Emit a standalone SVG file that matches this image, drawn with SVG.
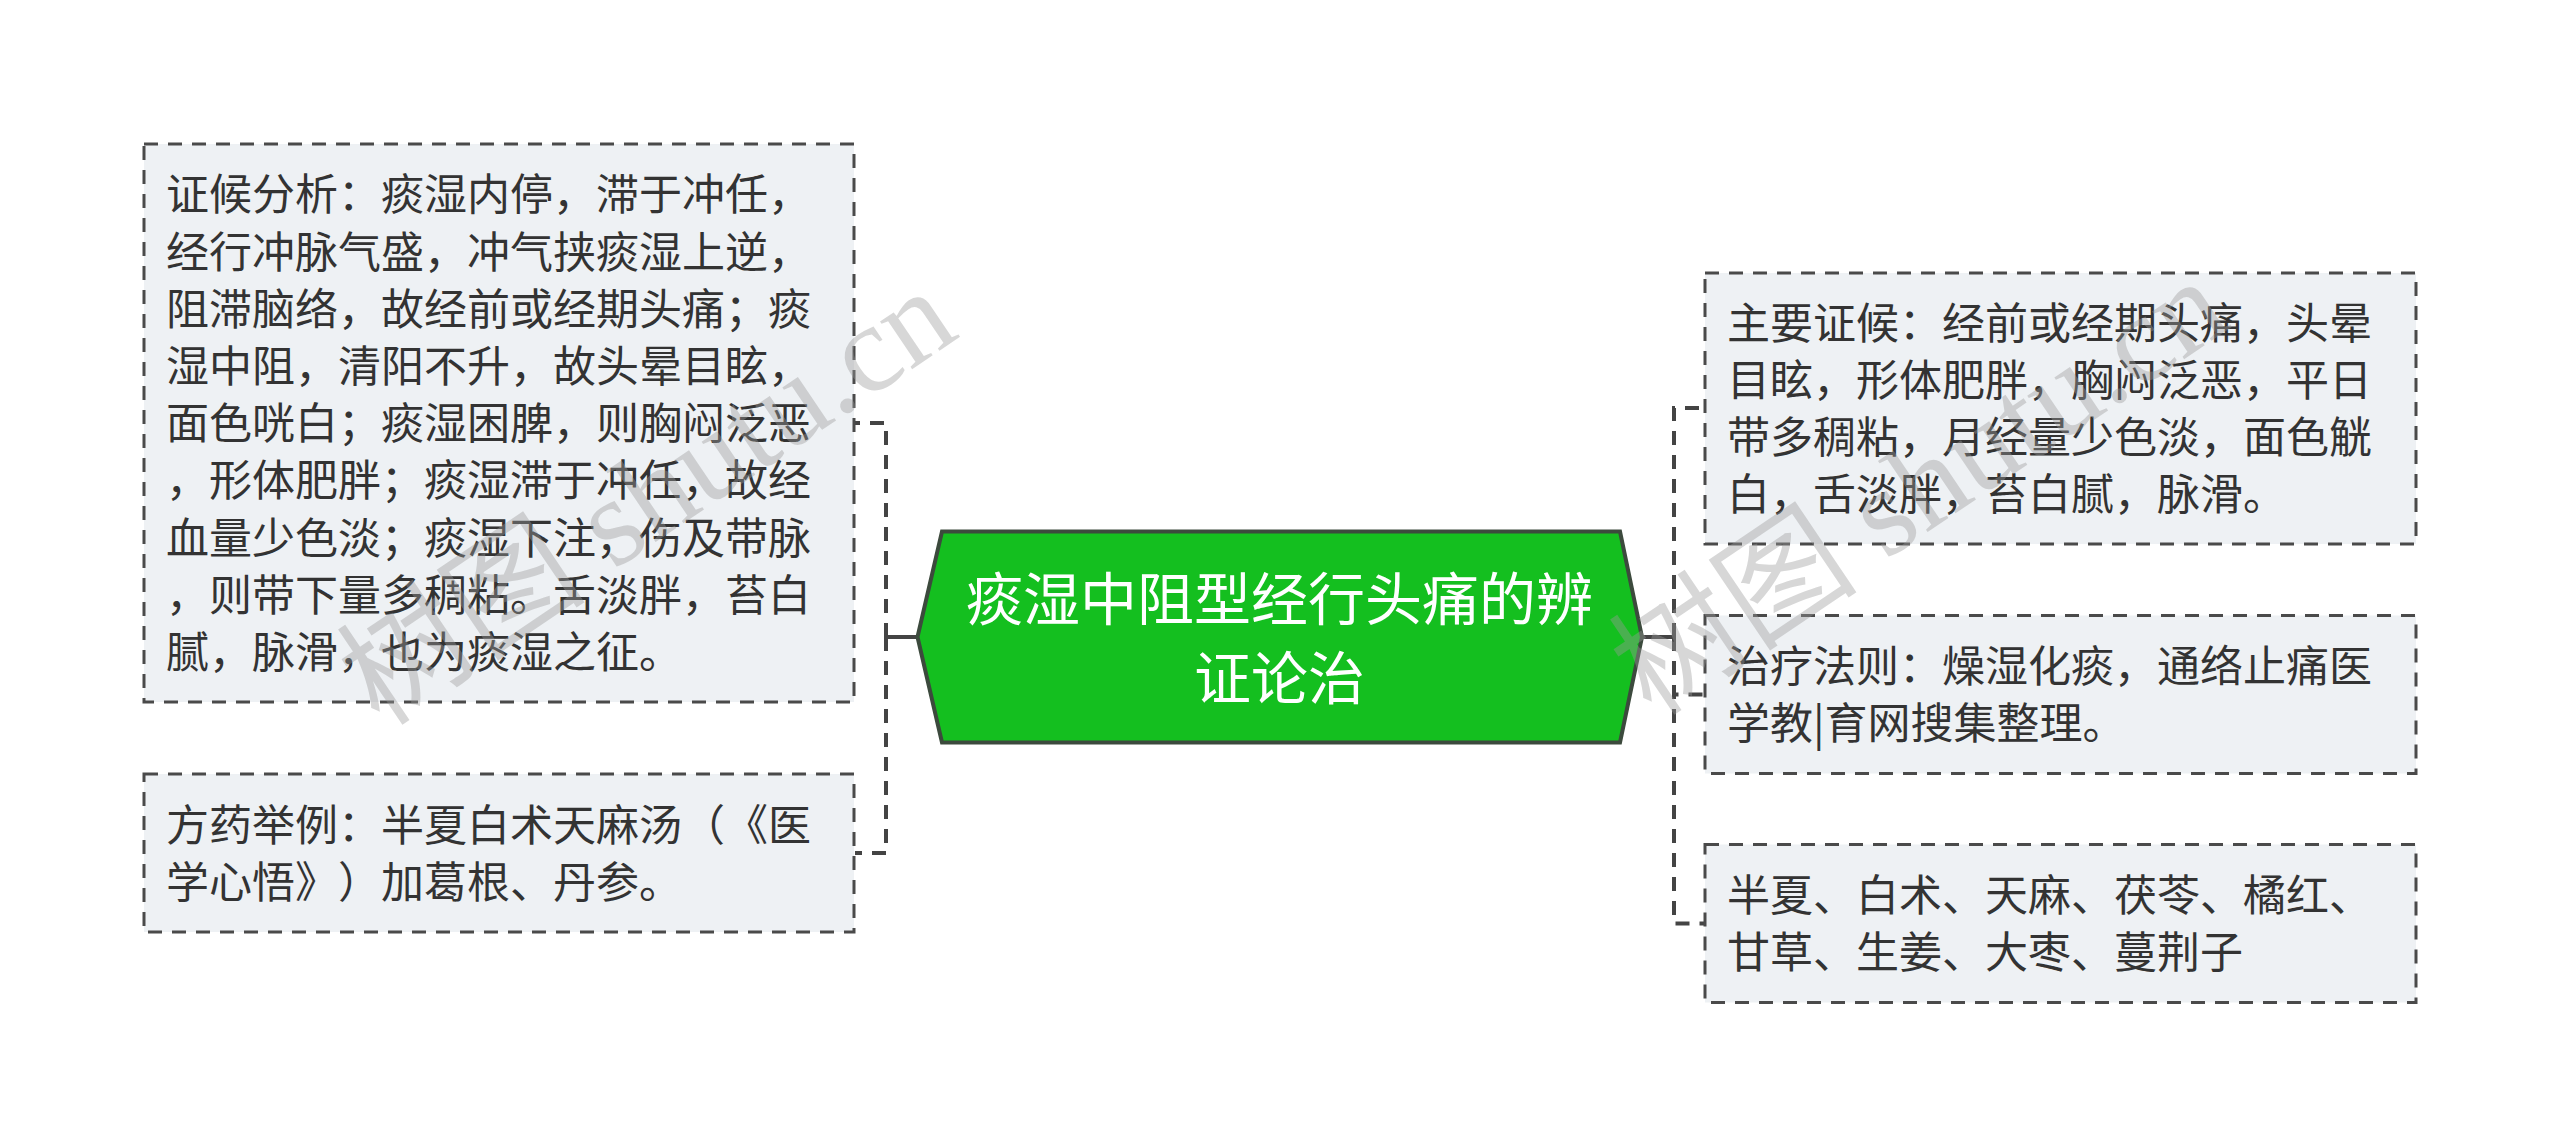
<svg xmlns="http://www.w3.org/2000/svg" width="2560" height="1146" viewBox="0 0 2560 1146">
<style>
text{text-spacing-trim:space-all;}
.box{fill:#eef1f4;stroke:#4a4a4a;stroke-width:3;stroke-dasharray:14 10;}
.t{font-family:"Noto Sans CJK SC","Noto Sans",sans-serif;font-size:43px;fill:#333333;}
.ct{font-family:"Noto Sans CJK SC","Noto Sans",sans-serif;font-size:57px;fill:#ffffff;text-anchor:middle;}
.dash{fill:none;stroke:#444444;stroke-width:4;stroke-dasharray:14 10;}
.solid{fill:none;stroke:#444444;stroke-width:4;}
.wm{font-family:"Liberation Serif","Noto Sans CJK SC",serif;font-size:125px;fill:#9a9a9a;fill-opacity:0.4;}
</style>
<rect width="2560" height="1146" fill="#ffffff"/>
<g id="connectors">
<path class="solid" d="M917 637 H886"/>
<path class="dash" d="M886 637 V423 H855"/>
<path class="dash" d="M886 637 V853 H855"/>
<path class="solid" d="M1642 637 H1674"/>
<path class="dash" d="M1674 637 V408 H1705"/>
<path class="dash" d="M1674 637 V694.5 H1705"/>
<path class="dash" d="M1674 637 V923.5 H1705"/>
</g>
<g id="center">
<polygon points="917.5,637 942,531.5 1620,531.5 1642,637 1620,742.5 942,742.5" fill="#14bf1f" stroke="#3c4a3d" stroke-width="4"/>
<text class="ct" x="1279.5" y="620">痰湿中阻型经行头痛的辨</text>
<text class="ct" x="1279.5" y="698.5">证论治</text>
</g>
<g id="analysis">
<rect class="box" x="144" y="144" width="710" height="558"/>
<text class="t" x="166" y="210.4">证候分析：痰湿内停，滞于冲任，</text>
<text class="t" x="166" y="267.6">经行冲脉气盛，冲气挟痰湿上逆，</text>
<text class="t" x="166" y="324.8">阻滞脑络，故经前或经期头痛；痰</text>
<text class="t" x="166" y="382">湿中阻，清阳不升，故头晕目眩，</text>
<text class="t" x="166" y="439.2">面色咣白；痰湿困脾，则胸闷泛恶</text>
<text class="t" x="166" y="496.4">，形体肥胖；痰湿滞于冲任，故经</text>
<text class="t" x="166" y="553.6">血量少色淡；痰湿下注，伤及带脉</text>
<text class="t" x="166" y="610.8">，则带下量多稠粘。舌淡胖，苔白</text>
<text class="t" x="166" y="668">腻，脉滑，也为痰湿之征。</text>
</g>
<g id="prescription">
<rect class="box" x="144" y="774" width="710" height="158"/>
<text class="t" x="166" y="840.8">方药举例：半夏白术天麻汤（《医</text>
<text class="t" x="166" y="897.8">学心悟》）加葛根、丹参。</text>
</g>
<g id="symptoms">
<rect class="box" x="1705" y="273" width="711" height="271"/>
<text class="t" x="1727" y="339">主要证候：经前或经期头痛，头晕</text>
<text class="t" x="1727" y="396">目眩，形体肥胖，胸闷泛恶，平日</text>
<text class="t" x="1727" y="453">带多稠粘，月经量少色淡，面色觥</text>
<text class="t" x="1727" y="510">白，舌淡胖，苔白腻，脉滑。</text>
</g>
<g id="principle">
<rect class="box" x="1705" y="615.5" width="711" height="158"/>
<text class="t" x="1727" y="682.3">治疗法则：燥湿化痰，通络止痛医</text>
<text class="t" x="1727" y="739.3">学教|育网搜集整理。</text>
</g>
<g id="herbs">
<rect class="box" x="1705" y="844.5" width="711" height="158"/>
<text class="t" x="1727" y="911.3">半夏、白术、天麻、茯苓、橘红、</text>
<text class="t" x="1727" y="968.3">甘草、生姜、大枣、蔓荆子</text>
</g>
<g id="watermark">
<text class="wm" transform="translate(380,728) rotate(-34)">树图 shutu.cn</text>
<text class="wm" transform="translate(1652,718) rotate(-34)">树图 shutu.cn</text>
</g>
</svg>
